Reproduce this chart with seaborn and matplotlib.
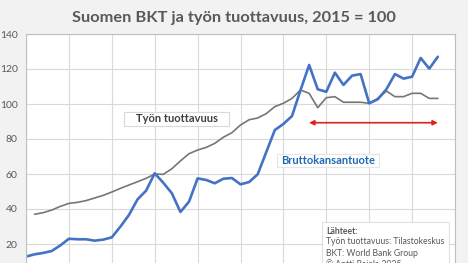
import numpy as np
import pandas as pd
import seaborn as sns
import matplotlib.pyplot as plt

# Data (index, 2015 = 100)
gdp_years = list(range(1975, 2024))
gdp = [12.8, 14.1, 14.9, 16.0, 19.2, 23.0, 22.7, 22.7, 21.9, 22.5,
       23.8, 29.9, 36.6, 45.5, 50.5, 60.4, 55.0, 49.0, 38.3, 44.2,
       57.5, 56.6, 54.7, 57.3, 57.7, 54.1, 55.4, 59.8, 72.5, 85.1,
       88.6, 93.1, 108.0, 122.3, 108.4, 107.0, 117.9, 110.9, 116.2, 117.1,
       100.4, 102.7, 108.4, 117.1, 114.5, 115.6, 126.3, 120.2, 127.0]

prod_years = list(range(1976, 2024))
prod = [37.0, 37.9, 39.4, 41.5, 43.2, 43.8, 44.8, 46.3, 47.8, 49.7,
        51.8, 53.7, 55.6, 57.5, 60.0, 59.8, 63.0, 67.5, 71.6, 73.7,
        75.2, 77.5, 81.0, 83.6, 88.0, 91.0, 92.0, 94.5, 98.5, 100.4,
        103.2, 108.0, 106.1, 97.9, 103.6, 104.2, 101.0, 101.0, 101.0, 100.4,
        103.2, 107.4, 104.2, 104.2, 106.1, 106.1, 103.2, 103.2]

arrow_start, arrow_end, arrow_level = 2008, 2023, 89.3

title = 'Suomen BKT ja työn tuottavuus, 2015 = 100'
sources = ['Lähteet:', 'Työn tuottavuus: Tilastokeskus',
           'BKT: World Bank Group', '© Antti Rajala 2025']

sns.set_style('white')
plt.rcParams['font.family'] = ['Lato', 'DejaVu Sans']

W, H = 468, 263

df_gdp = pd.DataFrame({'year': gdp_years, 'value': gdp})
df_prod = pd.DataFrame({'year': prod_years, 'value': prod})

fig = plt.figure(figsize=(W / 100, H / 100), dpi=100, facecolor='#f2f2f2')
ax = fig.add_axes([26 / W, 0, (455 - 26) / W, 1 - 34 / H])
ax.set_facecolor('white')


def px_box(x0, y0, x1, y1, ec):
    # white label box given in pixel coordinates (from top-left)
    fig.patches.append(plt.Rectangle((x0 / W, 1 - y1 / H), (x1 - x0) / W, (y1 - y0) / H,
                                     transform=fig.transFigure, fc='white', ec=ec,
                                     lw=0.8, zorder=3))


sns.lineplot(data=df_prod, x='year', y='value', ax=ax, color='#767676', lw=1.2)
sns.lineplot(data=df_gdp, x='year', y='value', ax=ax, color='#4472c4', lw=1.9)

ax.set_xlim(1975, 2025)
ax.set_ylim(140 - 229 / 1.75, 140)
ax.set_xticks(np.arange(1975, 2026, 5))
ax.set_yticks(np.arange(20, 141, 20))
ax.set_xticklabels([])
ax.grid(True, color='#d9d9d9', lw=0.8)
ax.tick_params(axis='y', length=0, pad=6, labelsize=7.5, labelcolor='#595959')
ax.tick_params(axis='x', length=0)
ax.set_xlabel('')
ax.set_ylabel('')
for side in ['left', 'top', 'right']:
    ax.spines[side].set_color('#bfbfbf')
    ax.spines[side].set_linewidth(0.8)
ax.spines['bottom'].set_visible(False)

# double arrow over the period 2008-2023
ax.annotate('', xy=(arrow_end, arrow_level), xytext=(arrow_start, arrow_level),
            arrowprops=dict(arrowstyle='<|-|>', color='#e0201f', lw=1.2,
                            mutation_scale=7, shrinkA=0, shrinkB=0))

# series labels
px_box(124, 111.7, 229, 125.7, '#d9d9d9')
fig.text(176.5 / W, 1 - 118.7 / H, 'Työn tuottavuus', ha='center', va='center',
         fontsize=8, fontweight='bold', color='#404040', zorder=4)
px_box(276.7, 154, 379, 167.3, '#e5e5e5')
fig.text(280.7 / W, 1 - 160.7 / H, 'Bruttokansantuote', ha='left', va='center',
         fontsize=8, fontweight='bold', color='#2069b3', zorder=4)

# sources box (bottom runs past the image edge, as in the original crop)
px_box(321.7, 222.3, 449, H + 5, '#e0e0e0')
for i, line in enumerate(sources):
    fig.text(326 / W, 1 - (231 + i * 11) / H, line, ha='left', va='center',
             fontsize=6.25, color='#595959', zorder=4,
             fontweight='bold' if i == 0 else 'normal')

fig.text(233.5 / W, 1 - 18 / H, title, ha='center', va='center',
         fontsize=11.8, fontweight='bold', color='#595959')

fig.savefig('out.png', dpi=100, facecolor=fig.get_facecolor())
